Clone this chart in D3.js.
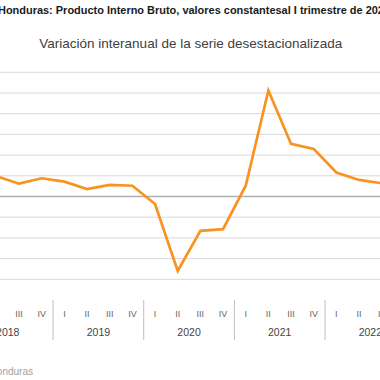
<!DOCTYPE html>
<html lang="es">
<head>
  <meta charset="UTF-8">
  <title>Honduras: PIB variación interanual</title>
  <script src="https://d3js.org/d3.v7.min.js"></script>
  <style>
    body {
      margin: 0;
      background: #fff;
      font-family: "Liberation Sans", Arial, sans-serif;
    }
    .grid line {
      stroke: #d9d9d9;
      stroke-width: 1;
    }
    .grid line.zero {
      stroke: #b0b0b0;
      stroke-width: 1.3;
    }
    .line {
      fill: none;
      stroke: #f7931e;
      stroke-width: 2.7px;
      stroke-linejoin: miter;
    }
    .quarter {
      font-size: 9px;
      fill: #666;
    }
    .year {
      font-size: 10.5px;
      fill: #444;
    }
    .sep {
      stroke: #bdbdbd;
      stroke-width: 1;
    }
  </style>
</head>
<body>
  <svg id="chart" width="380" height="380"></svg>

  <script>
    // Datos
    const years = [2018, 2019, 2020, 2021, 2022];
    const quarters = ["I", "II", "III", "IV"];
    // variación interanual (%), desde 2018 I hasta 2022 IV (null = fuera de la imagen)
    const growth = [null, 4.9, 3.1, 4.4,
                    3.6, 1.8, 2.8, 2.6,
                    -1.8, -18.0, -8.3, -7.9,
                    2.6, 25.6, 12.7, 11.5,
                    5.8, 4.0, 3.2, null];
    const yTicks = [-20, -15, -10, -5, 0, 5, 10, 15, 20, 25, 30];

    const title = "Honduras: Producto Interno Bruto, valores constantesal I trimestre de 2023";
    const subtitle = "Variación interanual de la serie desestacionalizada";
    const source = "Fuente: Banco Central de Honduras";

    // Periodos (año + trimestre)
    const periods = [];
    years.forEach(y => quarters.forEach(q => periods.push(y + "-" + q)));
    const points = periods
      .map((p, i) => ({ period: p, value: growth[i] }))
      .filter(d => d.value !== null);

    const svg = d3.select("#chart");

    // Escalas (el gráfico original es más ancho que la imagen)
    const x = d3.scaleBand()
      .domain(periods)
      .range([-37.6, 415.7])
      .paddingInner(0);

    const y = d3.scaleLinear()
      .domain([-25, 30])
      .range([300, 72.3]);

    const cx = p => x(p) + x.bandwidth() / 2;

    // Títulos
    svg.append("text")
      .attr("x", -2)
      .attr("y", 14)
      .attr("textLength", 392)
      .attr("lengthAdjust", "spacingAndGlyphs")
      .style("font-size", "11px")
      .style("font-weight", "bold")
      .style("fill", "#1a1a1a")
      .text(title);

    svg.append("text")
      .attr("x", 190.8)
      .attr("y", 48)
      .attr("text-anchor", "middle")
      .style("font-size", "13.5px")
      .style("fill", "#404040")
      .text(subtitle);

    // Líneas de cuadrícula
    svg.append("g")
      .attr("class", "grid")
      .selectAll("line")
      .data(yTicks)
      .enter()
      .append("line")
      .attr("class", d => d === 0 ? "zero" : null)
      .attr("x1", 0)
      .attr("x2", 380)
      .attr("y1", d => y(d))
      .attr("y2", d => y(d));

    // Eje X: trimestres
    svg.selectAll(".quarter")
      .data(periods)
      .enter()
      .append("text")
      .attr("class", "quarter")
      .attr("x", d => cx(d))
      .attr("y", 316.5)
      .attr("text-anchor", "middle")
      .text(d => d.split("-")[1]);

    // Eje X: años
    svg.selectAll(".year")
      .data(years)
      .enter()
      .append("text")
      .attr("class", "year")
      .attr("x", d => (x(d + "-I") + x(d + "-IV") + x.bandwidth()) / 2)
      .attr("y", 336)
      .attr("text-anchor", "middle")
      .text(d => d);

    // Separadores entre años
    svg.selectAll(".sep")
      .data(years.slice(1))
      .enter()
      .append("line")
      .attr("class", "sep")
      .attr("x1", d => x(d + "-I"))
      .attr("x2", d => x(d + "-I"))
      .attr("y1", 300)
      .attr("y2", 340);

    // Serie
    const line = d3.line()
      .x(d => cx(d.period))
      .y(d => y(d.value));

    svg.append("path")
      .datum(points)
      .attr("class", "line")
      .attr("d", line);

    // Fuente
    svg.append("text")
      .attr("x", 33)
      .attr("y", 375)
      .attr("text-anchor", "end")
      .style("font-size", "10px")
      .style("fill", "#a0a0a0")
      .text(source);
  </script>
</body>
</html>
